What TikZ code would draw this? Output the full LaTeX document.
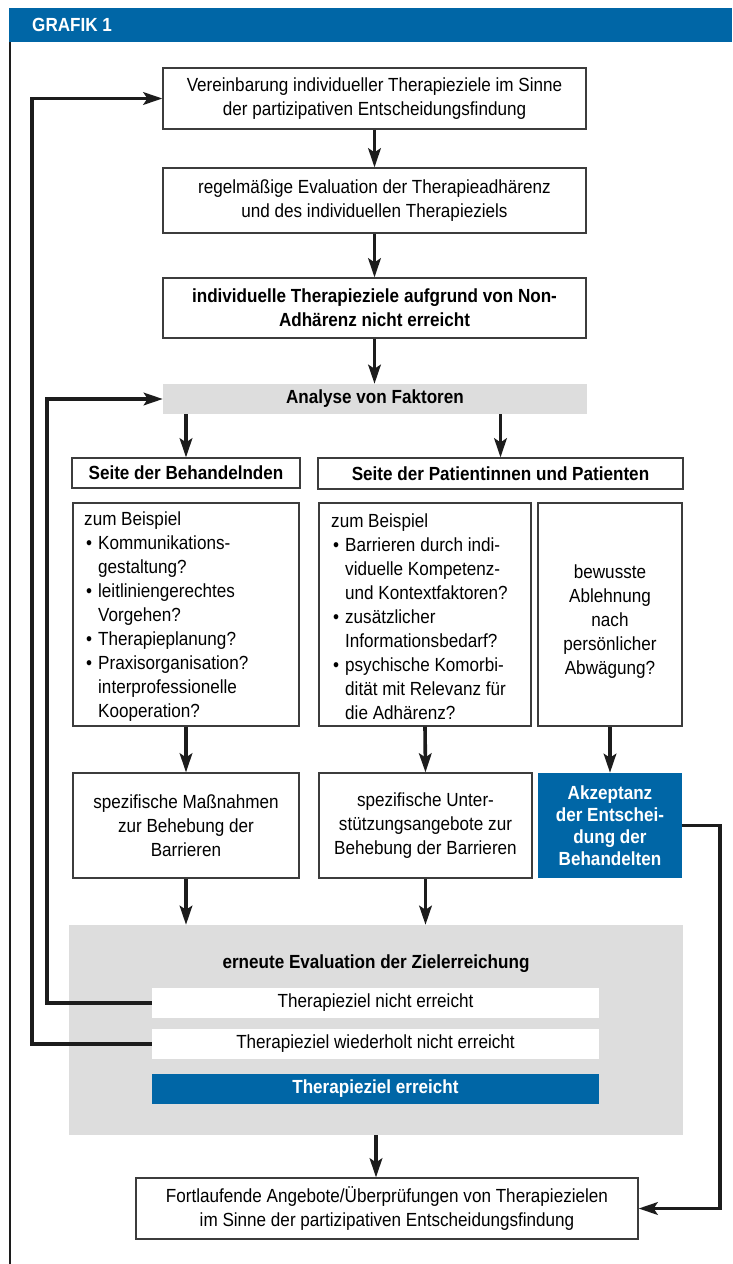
\documentclass[tikz,border=0pt]{standalone}
\usepackage{fontspec}
\setmainfont{Liberation Sans}[FakeStretch=0.9]
\usetikzlibrary{arrows.meta}
\definecolor{hblue}{RGB}{0,102,166}
\definecolor{lgray}{RGB}{221,221,221}
\definecolor{bordcol}{RGB}{60,60,60}
\definecolor{conncol}{RGB}{28,28,28}
\newcommand\bitem{\makebox[14pt][l]{\hspace{2pt}\textbullet}}
\newcommand\bcont{\hspace*{14pt}}
\begin{document}
\begin{tikzpicture}[x=1pt,y=-1pt,
  txt/.style={font=\fontsize{19}{24}\selectfont, text=black},
  btxt/.style={font=\fontsize{19}{24}\selectfont\bfseries, text=black},
  box/.style={txt, draw=bordcol, line width=1.2pt, fill=white, inner sep=0pt, align=center},
  bbox/.style={box, font=\fontsize{19}{24}\selectfont\bfseries},
  extxt/.style={txt, inner sep=0pt, align=left, anchor=west},
  graybar/.style={btxt, fill=lgray, inner sep=0pt, align=center},
  whitebar/.style={txt, fill=white, inner sep=0pt, align=center, minimum width=447pt, minimum height=30pt},
  bluebar/.style={font=\fontsize{19}{22}\selectfont\bfseries, text=white, fill=hblue, inner sep=0pt, align=center},
  conn/.style={draw=conncol, line width=3.6pt, -{Stealth[length=19pt,width=12.5pt,inset=4pt]}},
  border/.style={draw=conncol, line width=2pt}
]
\useasboundingbox (0,0) rectangle (732,1264);

% header
\node[fill=hblue, minimum width=723pt, minimum height=34pt, inner sep=0pt] (hdr) at (370.5,25) {};
\node[font=\fontsize{19}{22}\selectfont\bfseries, text=white, anchor=west, inner sep=0pt] (hdrtxt) at (32,25) {GRAFIK 1};
\coordinate (btop) at (10,42);
\coordinate (bbot) at (10,1264);
\draw[border] (btop) -- (bbot);

% top chain
\node[box, minimum width=423pt, minimum height=61pt] (b1) at (374.5,98.5)
  {Vereinbarung individueller Therapieziele im Sinne\\der partizipativen Entscheidungsfindung};
\node[box, minimum width=423pt, minimum height=65pt] (b2) at (374.5,200.5)
  {regelmäßige Evaluation der Therapieadhärenz\\und des individuellen Therapieziels};
\node[bbox, minimum width=423pt, minimum height=60pt] (b3) at (374.5,308)
  {individuelle Therapieziele aufgrund von Non-\\Adhärenz nicht erreicht};
\node[graybar, minimum width=424pt, minimum height=30pt] (ana) at (375,399) {Analyse von Faktoren};

% sides
\node[bbox, minimum width=228pt, minimum height=30pt] (sb) at (186,473) {Seite der Behandelnden};
\node[bbox, minimum width=365pt, minimum height=31pt] (sp) at (500.5,473.5) {Seite der Patientinnen und Patienten};

% example boxes
\node[box, minimum width=226pt, minimum height=223pt] (e1) at (186,614.5) {};
\node[extxt] (e1t) at (84,617)
  {zum Beispiel\\
   \bitem Kommunikations-\\
   \bcont gestaltung?\\
   \bitem leitliniengerechtes\\
   \bcont Vorgehen?\\
   \bitem Therapieplanung?\\
   \bitem Praxisorganisation?\\
   \bcont interprofessionelle\\
   \bcont Kooperation?};
\node[box, minimum width=212pt, minimum height=223pt] (e2) at (425,614.5) {};
\node[extxt] (e2t) at (331,617)
  {zum Beispiel\\
   \bitem Barrieren durch indi-\\
   \bcont viduelle Kompetenz-\\
   \bcont und Kontextfaktoren?\\
   \bitem zusätzlicher\\
   \bcont Informationsbedarf?\\
   \bitem psychische Komorbi-\\
   \bcont dität mit Relevanz für\\
   \bcont die Adhärenz?};
\node[box, minimum width=144pt, minimum height=223pt] (e3) at (610,614.5) {};
\node[txt, align=center, inner sep=0pt] (e3t) at (610,622)
  {bewusste\\Ablehnung\\nach\\persönlicher\\Abwägung?};

% measures
\node[box, minimum width=226pt, minimum height=105pt] (m1) at (186,825.5)
  {spezifische Maßnahmen\\zur Behebung der\\Barrieren};
\node[box, minimum width=213pt, minimum height=105pt] (m2) at (425.5,825.5)
  {spezifische Unter-\\stützungsangebote zur\\Behebung der Barrieren};
\node[bluebar, minimum width=144pt, minimum height=105pt] (acc) at (610,825.5)
  {Akzeptanz\\der Entschei-\\dung der\\Behandelten};

% evaluation area
\node[fill=lgray, minimum width=614pt, minimum height=210pt, inner sep=0pt] (gray) at (376,1030) {};
\node[btxt, inner sep=0pt] (evtxt) at (376,964) {erneute Evaluation der Zielerreichung};
\node[whitebar] (r1) at (375.5,1003) {Therapieziel nicht erreicht};
\node[whitebar] (r2) at (375.5,1044) {Therapieziel wiederholt nicht erreicht};
\node[bluebar, minimum width=447pt, minimum height=30pt] (r3) at (375.5,1089) {Therapieziel erreicht};

% final
\node[box, minimum width=502pt, minimum height=61pt] (fin) at (387,1208.5)
  {Fortlaufende Angebote/Überprüfungen von Therapiezielen\\im Sinne der partizipativen Entscheidungsfindung};

% connectors
\draw[conn] (b1.south) -- (b2.north);
\draw[conn] (b2.south) -- (b3.north);
\draw[conn] (b3.south) -- (ana.north -| b3.south);
\draw[conn] (sb.north |- ana.south) -- (sb.north);
\draw[conn] (sp.north |- ana.south) -- (sp.north);
\draw[conn] (e1.south) -- (m1.north);
\draw[conn] (e2.south) -- (m2.north);
\draw[conn] (e3.south) -- (acc.north);
\draw[conn] (m1.south) -- (m1.south |- gray.north);
\draw[conn] (m2.south) -- (m2.south |- gray.north);
\draw[conn] (gray.south) -- (gray.south |- fin.north);
\draw[conn] (r1.west) -- ++(-105,0) |- (ana.west);
\draw[conn] (r2.west) -- ++(-120,0) |- (b1.west);
\draw[conn] (acc.east) -- ++(38,0) |- (fin.east);
\end{tikzpicture}
\end{document}
